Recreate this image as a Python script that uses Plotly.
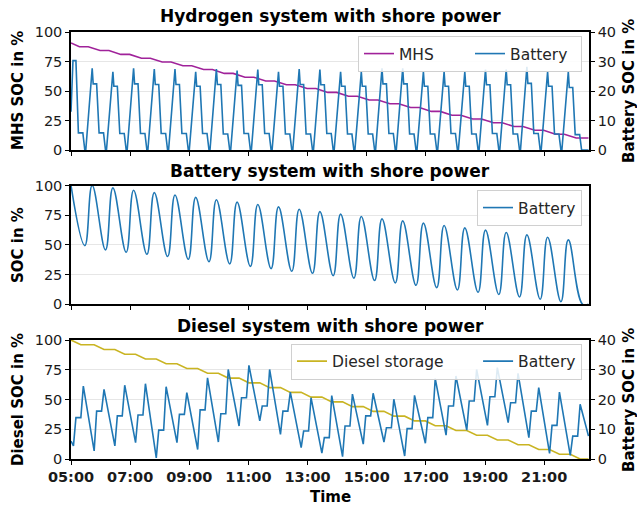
import pandas as pd
import plotly.graph_objects as go

# ---------------- data ----------------
START = pd.Timestamp("2021-06-01 05:00")
CYCLE_MIN = 42          # one harbour cycle in minutes
END_MIN = 1050          # 22:30
x_tick_labels = ["05:00", "07:00", "09:00", "11:00", "13:00", "15:00", "17:00", "19:00", "21:00"]

# Hydrogen system: MHS level (%) after each cycle (left axis)
mhs_levels = [90.7, 87.5, 84.3, 81.0, 77.8, 74.6, 71.4, 68.2, 64.9, 61.7, 58.5, 55.3, 52.1,
              48.8, 45.6, 42.4, 39.2, 36.0, 32.7, 29.5, 26.3, 23.1, 19.9, 16.7, 13.4, 10.2]
# Hydrogen system: battery (%) per cycle (right axis)
hyd_bat_start = 13.0
hyd_bat_peak = [30.3, 27.7, 26.5, 27.7, 27.4, 27.4, 26.5, 27.4, 26.9, 27.3, 26.5, 27.4, 27.3,
                26.5, 26.5, 27.7, 27.7, 26.5, 26.5, 26.5, 27.3, 27.3, 28.2, 26.5, 26.5]
hyd_bat_high = [30.3, 22.4, 21.6, 22.4, 22.2, 22.2, 21.6, 22.2, 21.9, 22.1, 21.6, 22.2, 22.1,
                21.6, 21.6, 22.4, 22.4, 21.6, 21.6, 21.6, 22.1, 22.1, 22.6, 21.6, 21.2]
hyd_bat_low = [5.8, 5.8, 5.6, 5.6, 5.6, 5.6, 5.6, 5.4, 5.6, 5.6, 5.4, 5.4, 5.6,
               5.4, 5.4, 5.6, 5.4, 5.4, 5.6, 5.4, 5.6, 5.4, 5.6, 5.4, 5.2]

# Battery system: peaks and troughs (%)
bat_peaks = [100, 100, 98, 96, 94, 92, 90, 88, 86, 84, 82, 80, 78, 75.9, 73.9, 71.9, 70.2,
             68.3, 66.3, 64.3, 62.4, 60.4, 58.4, 56.5, 54.2]
bat_troughs = [49.4, 45.8, 43.8, 42.1, 40.2, 37.9, 35.9, 34.0, 31.9, 30.0, 27.8, 26.1,
               24.1, 22.0, 20.0, 18.0, 16.0, 14.0, 12.1, 10.1, 8.3, 6.2, 4.3, 2.2]

# Diesel system: storage level (%) after each cycle (left axis)
diesel_levels = [100, 96, 92, 88, 84, 80, 76, 72, 68, 64, 60, 56, 52, 48, 44, 40, 36,
                 32, 28, 24, 20, 16, 12, 8, 4, 0]
# Diesel system: battery (%) per cycle (right axis)
die_bat_start = 6.05
die_bat_valley = [4.4, 2.7, 4.4, 5.5, 0.4, 5.5, 3.2, 5.7, 11.1, 12.8, 8.3, 3.8, 2.0,
                  0.8, 5.0, 5.7, 1.0, 5.3, 8.0, 9.7, 11.3, 12.2, 7.2, 1.9, 1.2]
die_bat_plateau = [13.9, 16.1, 14.5, 14.8, 9.7, 15.0, 16.5, 15.2, 20.6, 17.8, 16.1, 9.4, 7.2,
                   11.1, 14.5, 10.5, 10.2, 13.9, 17.8, 19.5, 20.9, 18.9, 16.1, 11.3, 7.7]
die_bat_peak = [24.5, 23.4, 24.8, 25.3, 24.3, 22.3, 27.3, 30.1, 31.5, 30.1, 22.5, 20.6, 21.3,
                21.8, 22.1, 20.1, 21.4, 27.0, 27.9, 30.1, 30.7, 28.8, 24.0, 22.5, 18.4]
die_bat_tail = [10.5, 7.7]

N = len(hyd_bat_peak)


def T(m):
    return START + pd.Timedelta(minutes=m)


# ---------------- build series ----------------
mx, my = [T(0)], [mhs_levels[0]]
for k in range(N):
    c = k * CYCLE_MIN
    t0 = 0 if k == 0 else c - 7
    mx += [T(t0), T(c + 17)]
    my += [mhs_levels[k], mhs_levels[k + 1]]
mx.append(T(END_MIN)); my.append(mhs_levels[-1])

hx, hy = [T(0)], [hyd_bat_start]
for k in range(N):
    c = k * CYCLE_MIN
    if k == 0:
        hx += [T(4), T(10)]; hy += [hyd_bat_high[0], hyd_bat_high[0]]
    else:
        hx += [T(c + 1), T(c + 3), T(c + 10)]
        hy += [hyd_bat_peak[k], hyd_bat_high[k], hyd_bat_high[k]]
    hx += [T(c + 15), T(c + 24), T(c + 28), T(c + 30)]
    hy += [hyd_bat_low[k], hyd_bat_low[k], 0, 0]
hx.append(T(END_MIN)); hy.append(0)

bx, by = [], []
for k in range(N):
    c = k * CYCLE_MIN
    bx.append(T(0 if k == 0 else c + 1)); by.append(bat_peaks[k])
    if k < len(bat_troughs):
        bx.append(T(c + 28)); by.append(bat_troughs[k])
bx += [T(1038), T(END_MIN)]; by += [0, 0]

dx, dy = [T(0)], [diesel_levels[0]]
for k in range(N):
    c = k * CYCLE_MIN
    if k == 0:
        dx.append(T(20)); dy.append(diesel_levels[1])
    else:
        dx += [T(c + 5), T(c + 25)]
        dy += [diesel_levels[k], diesel_levels[k + 1]]
dx.append(T(END_MIN)); dy.append(diesel_levels[-1])

ex, ey = [T(0)], [die_bat_start]
for k in range(N):
    c = k * CYCLE_MIN
    ex += [T(c + 5), T(c + 10), T(c + 20), T(c + 25)]
    ey += [die_bat_valley[k], die_bat_plateau[k], die_bat_plateau[k], die_bat_peak[k]]
ex += [T(1046), T(END_MIN)]; ey += die_bat_tail

# ---------------- figure ----------------
BLUE = "#1f77b4"
PURPLE = "#a0229a"
YELLOW = "#c9b422"
FONT = "DejaVu Sans"
TXT = "#1a1a1a"
NB = "\u00a0"

L, R, TOP, BOT = 71, 589, 32, 459
W_PLOT, H_PLOT = R - L, BOT - TOP


def xp(px):
    return (px - L) / W_PLOT


def yp(py):
    return (BOT - py) / H_PLOT


fig = go.Figure()
fig.add_trace(go.Scatter(x=mx, y=my, mode="lines", name="MHS", line=dict(color=PURPLE, width=1.6),
                         xaxis="x", yaxis="y", legend="legend"))
fig.add_trace(go.Scatter(x=hx, y=hy, mode="lines", name="Battery", line=dict(color=BLUE, width=1.6),
                         xaxis="x", yaxis="y4", legend="legend"))
fig.add_trace(go.Scatter(x=bx, y=by, mode="lines", name="Battery",
                         line=dict(color=BLUE, width=1.6, shape="spline", smoothing=1.2),
                         xaxis="x2", yaxis="y2", legend="legend2"))
fig.add_trace(go.Scatter(x=dx, y=dy, mode="lines", name="Diesel storage" + NB * 6,
                         line=dict(color=YELLOW, width=1.6),
                         xaxis="x3", yaxis="y3", legend="legend3"))
fig.add_trace(go.Scatter(x=ex, y=ey, mode="lines", name="Battery", line=dict(color=BLUE, width=1.6),
                         xaxis="x3", yaxis="y5", legend="legend3"))

tickvals = [START + pd.Timedelta(hours=2 * i) for i in range(len(x_tick_labels))]
xcommon = dict(range=[T(0), T(END_MIN + 1)], tickvals=tickvals, ticktext=x_tick_labels,
               ticks="outside", ticklen=4, tickwidth=1.3, tickcolor="black",
               showline=True, linecolor="black", linewidth=1.5, mirror=True,
               showgrid=False, zeroline=False, domain=[0, 1],
               tickfont=dict(family=FONT, size=14.5, color=TXT))
ycommon = dict(range=[0, 100], tickvals=[0, 25, 50, 75, 100], ticks="outside", ticklen=4,
               tickwidth=1.3, tickcolor="black", showline=True, linecolor="black", linewidth=1.5,
               showgrid=True, gridcolor="#e6e6e6", gridwidth=1, zeroline=False,
               tickfont=dict(family=FONT, size=14.5, color=TXT))
yright = dict(range=[0, 40], tickvals=[0, 10, 20, 30, 40], ticks="outside", ticklen=4,
              tickwidth=1.3, tickcolor="black", showline=True, linecolor="black", linewidth=1.5,
              showgrid=False, zeroline=False, side="right",
              tickfont=dict(family=FONT, size=14.5, color=TXT))

top_dom = [yp(150), 1.0]
mid_dom = [yp(304.3), yp(185.5)]
bot_dom = [0.0, yp(340)]

fig.update_layout(
    width=637, height=506,
    margin=dict(l=L, r=637 - R, t=TOP, b=506 - BOT),
    paper_bgcolor="white", plot_bgcolor="white",
    font=dict(family=FONT, size=14, color=TXT),
    xaxis=dict(xcommon, anchor="y", showticklabels=False),
    xaxis2=dict(xcommon, anchor="y2", showticklabels=False),
    xaxis3=dict(xcommon, anchor="y3", showticklabels=True,
                tickfont=dict(family=FONT, size=14.5, color=TXT, weight="bold")),
    yaxis=dict(ycommon, domain=top_dom, anchor="x"),
    yaxis4=dict(yright, overlaying="y", anchor="x"),
    yaxis2=dict(ycommon, domain=mid_dom, anchor="x2", mirror=True),
    yaxis3=dict(ycommon, domain=bot_dom, anchor="x3"),
    yaxis5=dict(yright, overlaying="y3", anchor="x3"),
    showlegend=True,
)

leg_common = dict(orientation="h", xref="paper", yref="paper", xanchor="right", yanchor="top",
                  bgcolor="rgba(255,255,255,0.85)", bordercolor="#d0d0d0", borderwidth=1,
                  font=dict(family=FONT, size=15.5, color="#262626"), itemwidth=30)
fig.update_layout(
    legend=dict(leg_common, x=xp(582), y=yp(36), entrywidth=66, entrywidthmode="pixels"),
    legend2=dict(leg_common, x=xp(582), y=yp(190)),
    legend3=dict(leg_common, x=xp(582), y=yp(343.5)),
)

ann = []
for text, py in [("Hydrogen system with shore power", 16),
                 ("Battery system with shore power", 171),
                 ("Diesel system with shore power", 326)]:
    ann.append(dict(text=f"<b>{text}</b>", x=xp(330), y=yp(py), xref="paper", yref="paper",
                    showarrow=False, xanchor="center", yanchor="middle",
                    font=dict(family=FONT, size=17, color="black")))
for text, px, py in [("MHS SOC in %", 18, 91), ("SOC in %", 18, 245), ("Diesel SOC in %", 18, 400),
                     ("Battery SOC in %", 629, 91), ("Battery SOC in %", 629, 400)]:
    ann.append(dict(text=f"<b>{text}</b>", x=xp(px), y=yp(py), xref="paper", yref="paper",
                    showarrow=False, xanchor="center", yanchor="middle", textangle=-90,
                    font=dict(family=FONT, size=15, color="black")))
ann.append(dict(text="<b>Time</b>", x=xp(330), y=yp(496.5), xref="paper", yref="paper",
                showarrow=False, xanchor="center", yanchor="middle",
                font=dict(family=FONT, size=15, color="black")))
fig.update_layout(annotations=ann)

fig.write_html("out.html")
